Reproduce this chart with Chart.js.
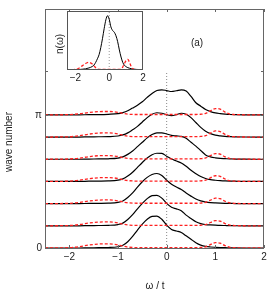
<!DOCTYPE html>
<html>
<head>
<meta charset="utf-8">
<script src="https://cdn.jsdelivr.net/npm/chart.js@4/dist/chart.umd.min.js"></script>
<style>
  body { margin: 0; background: #fff; }
  #wrap { position: relative; width: 270px; height: 293px; }
  #main { position: absolute; left: 0; top: 0; }
  #inset { position: absolute; left: 48px; top: 8px; }
</style>
</head>
<body>
<div id="wrap">
  <canvas id="main" width="270" height="293"></canvas>
  <canvas id="inset" width="100" height="80"></canvas>
</div>
<script>
// energy grid (omega / t), shared by all curves
const omega = [-2.5,-2.0,-1.8,-1.6,-1.4,-1.2,-1.0,-0.9,-0.8,-0.7,-0.6,-0.5,-0.4,-0.3,-0.2,-0.1,0,
               0.1,0.2,0.3,0.4,0.5,0.6,0.7,0.8,0.9,1.0,1.1,1.2,1.3,1.4,1.6,2.0];

// wave numbers (baselines of the stacked curves)
const waveNumbers = [0, Math.PI/6, Math.PI/3, Math.PI/2, 2*Math.PI/3, 5*Math.PI/6, Math.PI];

// black spectra, one per wave number (height above baseline)
const black0 = [0,0,0,.005,.007,.011,.030,.064,.149,.275,.424,.562,.677,.746,.752,.677,.539,.436,.401,.367,.287,.206,.126,.069,.037,.023,.016,.011,.007,.005,.002,0,0];
const black1 = [0,0,0,.005,.007,.011,.030,.064,.149,.264,.401,.528,.642,.711,.720,.654,.528,.436,.401,.356,.252,.172,.096,.050,.030,.021,.014,.009,.007,.005,.002,0,0];
const black2 = [0,0,0,.005,.007,.011,.030,.064,.145,.252,.390,.516,.619,.688,.711,.665,.551,.459,.390,.333,.252,.177,.110,.064,.037,.023,.016,.011,.007,.005,.002,0,0];
const black3 = [0,0,0,.005,.007,.011,.030,.060,.126,.218,.333,.447,.551,.631,.665,.661,.596,.528,.482,.436,.356,.264,.184,.115,.069,.041,.028,.018,.011,.007,.005,.001,0];
const black4 = [0,0,0,.005,.007,.011,.028,.055,.115,.195,.298,.401,.505,.585,.624,.624,.596,.564,.551,.539,.493,.401,.310,.206,.103,.057,.034,.021,.014,.007,.005,.001,0];
const black5 = [0,0,0,.005,.007,.011,.025,.050,.099,.172,.252,.356,.459,.539,.574,.562,.528,.505,.528,.562,.539,.459,.344,.229,.138,.080,.046,.028,.016,.009,.005,.001,0];
const black6 = [0,0,0,.005,.007,.014,.028,.053,.096,.161,.229,.310,.413,.505,.574,.592,.574,.551,.569,.592,.562,.436,.287,.206,.126,.076,.046,.030,.018,.009,.005,.001,0];

// red dashed spectra
const red0 = [0,.007,.030,.069,.094,.099,.074,.045,.022,.012,.009,.009,.009,.009,.009,.009,.009,.009,.009,.009,.009,.009,.009,.013,.029,.081,.127,.114,.055,.016,.007,.001,0];
const red1 = [0,.007,.028,.064,.087,.092,.069,.041,.021,.011,.009,.009,.009,.009,.009,.009,.009,.009,.009,.009,.009,.009,.009,.013,.028,.078,.122,.110,.053,.015,.006,.001,0];
const red2 = [0,.007,.026,.061,.083,.087,.065,.039,.020,.011,.009,.009,.009,.009,.009,.009,.009,.009,.009,.009,.009,.009,.009,.013,.029,.082,.129,.116,.056,.016,.007,.001,0];
const red3 = [0,.007,.028,.064,.087,.092,.069,.041,.021,.011,.009,.009,.009,.009,.009,.009,.009,.009,.009,.009,.009,.009,.009,.014,.030,.086,.134,.120,.058,.017,.007,.001,0];
const red4 = [0,.007,.026,.061,.083,.087,.065,.039,.020,.011,.009,.009,.009,.009,.009,.009,.009,.009,.009,.009,.009,.009,.009,.014,.030,.086,.134,.120,.058,.017,.007,.001,0];
const red5 = [0,.007,.030,.069,.094,.099,.074,.045,.022,.012,.009,.009,.009,.009,.009,.009,.009,.009,.009,.009,.009,.009,.009,.015,.033,.092,.145,.130,.063,.018,.007,.001,0];
const red6 = [0,.006,.024,.056,.076,.080,.060,.036,.018,.010,.009,.009,.009,.009,.009,.009,.009,.009,.009,.009,.009,.009,.009,.015,.034,.095,.149,.134,.065,.018,.008,.002,0];

const blackRows = [black0, black1, black2, black3, black4, black5, black6];
const redRows = [red0, red1, red2, red3, red4, red5, red6];

// inset: momentum-integrated n(omega)
const insetBlack = [0,.005,.008,.013,.02,.035,.06,.085,.13,.19,.26,.38,.53,.70,.85,.92,.86,.73,.67,.64,.58,.48,.34,.22,.13,.08,.055,.04,.03,.022,.016,.01,.004];
const insetRed = [0,.01,.03,.07,.11,.13,.10,.07,.04,.02,.01,.01,.01,.01,.01,.01,.01,.01,.01,.01,.01,.01,.01,.02,.05,.11,.16,.18,.13,.06,.02,.005,0];

const xTicks = [-2, -1, 0, 1, 2];
const yTicks = [0, Math.PI];
const yTickLabels = ['0', 'π'];
const yExtraTick = 4.17;       // unlabeled tick / top of the dotted line
const yMax = 5.64;

const FONT = '"Liberation Sans", Arial, sans-serif';
const minus = v => (v < 0 ? '\u2212' + Math.abs(v) : String(v));

const datasets = [];
blackRows.forEach((row, r) => {
    datasets.push({
        data: omega.map((w, i) => ({x: w, y: waveNumbers[r] + row[i]})),
        borderColor: '#000', borderWidth: 1.2, pointRadius: 0,
        cubicInterpolationMode: 'monotone', clip: false, order: 2
    });
});
redRows.forEach((row, r) => {
    datasets.push({
        data: omega.map((w, i) => ({x: w, y: waveNumbers[r] + row[i]})),
        borderColor: '#ff2020', borderWidth: 1.3, borderDash: [3, 2], pointRadius: 0,
        cubicInterpolationMode: 'monotone', clip: false, order: 1
    });
});
datasets.push({
    data: [{x: 0, y: 0}, {x: 0, y: yExtraTick}],
    borderColor: '#888', borderWidth: 1, borderDash: [1, 2], pointRadius: 0, order: 3
});

const boxPlugin = {
    id: 'box',
    afterDraw(chart) {
        const {ctx, chartArea: a, scales} = chart;
        ctx.save();
        ctx.strokeStyle = '#666';
        ctx.lineWidth = 1;
        ctx.strokeRect(a.left + 0.5, a.top + 0.5, a.right - a.left - 1, a.bottom - a.top);
        ctx.beginPath();
        xTicks.forEach(v => {
            const px = Math.round(scales.x.getPixelForValue(v)) + 0.5;
            ctx.moveTo(px, a.bottom); ctx.lineTo(px, a.bottom - 3);
            ctx.moveTo(px, a.top); ctx.lineTo(px, a.top + 3);
        });
        yTicks.concat([yExtraTick]).forEach(v => {
            const py = Math.round(scales.y.getPixelForValue(v)) + 0.5;
            ctx.moveTo(a.left, py); ctx.lineTo(a.left + 3, py);
            ctx.moveTo(a.right, py); ctx.lineTo(a.right - 3, py);
        });
        ctx.stroke();
        ctx.fillStyle = '#222';
        ctx.font = '10px ' + FONT;
        ctx.textAlign = 'center';
        ctx.textBaseline = 'middle';
        ctx.fillText('(a)', 197, 43);
        ctx.fillText('ω / t', 155, 286);
        ctx.translate(9, 142);
        ctx.rotate(-Math.PI / 2);
        ctx.fillText('wave number', 0, 0);
        ctx.restore();
    }
};

new Chart(document.getElementById('main'), {
    type: 'line',
    data: {datasets: datasets},
    options: {
        responsive: false,
        animation: false,
        layout: {padding: {top: 2, right: 6, left: 0, bottom: 0}},
        plugins: {legend: {display: false}, tooltip: {enabled: false}},
        scales: {
            x: {
                type: 'linear', min: -2.5, max: 2,
                afterFit: s => { s.height = 45; },
                afterBuildTicks: s => { s.ticks = xTicks.map(v => ({value: v})); },
                grid: {display: false, drawTicks: false},
                border: {display: false},
                ticks: {padding: 3, color: '#222', font: {size: 10, family: FONT}, callback: minus}
            },
            y: {
                type: 'linear', min: 0, max: yMax,
                afterFit: s => { s.width = 45; },
                afterBuildTicks: s => { s.ticks = yTicks.map(v => ({value: v})); },
                grid: {display: false, drawTicks: false},
                border: {display: false},
                ticks: {padding: 3, color: '#222', font: {size: 10, family: FONT},
                        callback: (v, i) => yTickLabels[i]}
            }
        }
    },
    plugins: [boxPlugin]
});

const insetPlugin = {
    id: 'insetBox',
    beforeDraw(chart) {
        const {ctx, chartArea: a} = chart;
        ctx.save();
        ctx.fillStyle = '#fff';
        ctx.fillRect(a.left, a.top, a.right - a.left, a.bottom - a.top);
        ctx.restore();
    },
    afterDraw(chart) {
        const {ctx, chartArea: a} = chart;
        ctx.save();
        ctx.strokeStyle = '#555';
        ctx.lineWidth = 1;
        ctx.strokeRect(a.left + 0.5, a.top + 0.5, a.right - a.left - 1, a.bottom - a.top - 1);
        ctx.fillStyle = '#222';
        ctx.font = '10px ' + FONT;
        ctx.textAlign = 'center';
        ctx.textBaseline = 'middle';
        ctx.translate(12, 36);
        ctx.rotate(-Math.PI / 2);
        ctx.fillText('n(ω)', 0, 0);
        ctx.restore();
    }
};

new Chart(document.getElementById('inset'), {
    type: 'line',
    data: {
        datasets: [
            {data: omega.map((w, i) => ({x: w, y: insetBlack[i]})), borderColor: '#000', borderWidth: 1,
             pointRadius: 0, cubicInterpolationMode: 'monotone', order: 2},
            {data: omega.map((w, i) => ({x: w, y: insetRed[i]})), borderColor: '#ff2020', borderWidth: 1.3,
             borderDash: [3, 2], pointRadius: 0, cubicInterpolationMode: 'monotone', order: 1},
            {data: [{x: 0, y: 0}, {x: 0, y: 1}], borderColor: '#999', borderWidth: 1, borderDash: [1, 2],
             pointRadius: 0, order: 3}
        ]
    },
    options: {
        responsive: false,
        animation: false,
        layout: {padding: {top: 3, right: 5, left: 0, bottom: 0}},
        plugins: {legend: {display: false}, tooltip: {enabled: false}},
        scales: {
            x: {
                type: 'linear', min: -2.5, max: 2,
                afterFit: s => { s.height = 18; },
                afterBuildTicks: s => { s.ticks = [-2, 0, 2].map(v => ({value: v})); },
                grid: {display: false, drawTicks: false},
                border: {display: false},
                ticks: {padding: 2, color: '#222', font: {size: 10, family: FONT}, callback: minus}
            },
            y: {
                type: 'linear', min: 0, max: 1,
                afterFit: s => { s.width = 19; },
                grid: {display: false, drawTicks: false},
                border: {display: false},
                ticks: {display: false}
            }
        }
    },
    plugins: [insetPlugin]
});
</script>
</body>
</html>
